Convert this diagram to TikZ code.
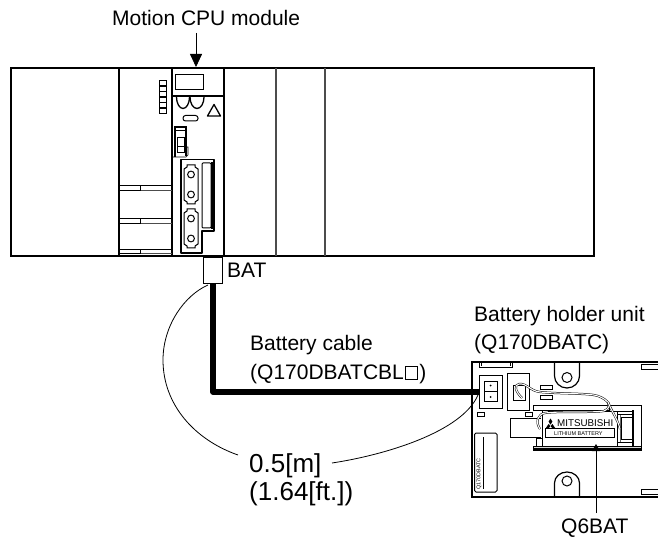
\documentclass[tikz,border=0pt]{standalone}
\usepackage{fontspec}
\setmainfont{Liberation Sans}
\usetikzlibrary{arrows.meta}
\tikzset{
  x=1pt,y=-1pt,
  body/.style={draw=black,line width=1.5pt,line join=miter},
  part/.style={draw=black,line width=1pt},
  fine/.style={draw=black,line width=.7pt},
  lbl/.style={anchor=base west,inner sep=0pt,font=\fontsize{21}{25}\selectfont},
  biglbl/.style={anchor=base west,inner sep=0pt,font=\fontsize{26}{30}\selectfont},
  wire/.style={draw=black,line width=.5pt,double=white,double distance=1.1pt},
  pointer/.style={draw=black,line width=.8pt}
}
\newcommand{\dsub}[1]{% D-sub connector outline, top at y=#1
  \draw[part] (187,#1) -- (195,#1) -- (195,#1+2) -- (198,#1+4) -- (198,#1+35) -- (195,#1+37) -- (195,#1+39) -- (187,#1+39) -- (187,#1+37) -- (184,#1+35) -- (184,#1+4) -- (187,#1+2) -- cycle;
  \draw[part] (191,#1+9.5) circle (3.4);
  \draw[part] (191,#1+29.5) circle (3.4);
}
\begin{document}
\begin{tikzpicture}
\useasboundingbox (0,0) rectangle (658,537);
% rack
\draw[body] (11,68) rectangle (594,256);
\draw[body] (119,68) -- (119,256);
\draw[body] (172,68) -- (172,256);
\draw[body] (224,68) -- (224,256);
\draw[draw=black!70,line width=1.2pt] (276,68) -- (276,256);
\draw[draw=black!70,line width=1.2pt] (325,68) -- (325,256);
\draw[body] (172,96) -- (224,96);
\draw[part] (175,74.5) rectangle (203,90);
% LEDs
\foreach \i in {0,...,5}{\draw[part] (159.5,81+5.5*\i) rectangle (166.5,81+5.5*\i+5);}
% status area
\draw[part,line width=1.3pt] (176.5,97) arc[start angle=180,end angle=0,x radius=6.5,y radius=11.5];
\draw[part,line width=1.3pt] (190,97) arc[start angle=180,end angle=0,x radius=7,y radius=11.5];
\draw[part,line width=1.3pt,line join=round] (207.5,116) -- (214,104.5) -- (220.5,116) -- cycle;
\draw[part,rounded corners=2.5pt] (183,115.5) rectangle (198,121);
% switch
\draw[part,line width=1.2pt] (175,157) -- (175,127) -- (186,127) -- (186,156);
\draw[part] (175,131) -- (186,131);
\draw[part] (177,138) rectangle (184,147);
\draw[part] (177,147) rectangle (184,153);
\draw[fine] (186,147) -- (188,147) -- (188,155) -- (186,157) -- (173,157);
% connector housing
\draw[part,line width=1.4pt,line join=round] (181,159.5) -- (214,159.5) -- (214,231) -- (202,231) -- (202,253) -- (181,253) -- cycle;
\draw[part,rounded corners=1pt] (202,163) rectangle (211,228);
\draw[line width=2.2pt] (212,162) -- (212,229);
\dsub{165}\dsub{209}
% bars
\foreach \a/\b in {186/191,219/223.5,250/254}{
  \draw[part] (119,\a) -- (172,\a);
  \draw[draw=black!70,line width=1pt] (140,\b) -- (172,\b);
  \draw[part] (119,\b) -- (140.5,\b) -- (140.5,\a);
}
% BAT connector
\node[draw=black,line width=1.3pt,fill=white,minimum width=19pt,minimum height=26pt,inner sep=0pt,anchor=north west] (batconn) at (203,257) {};
\node[lbl] (batlabel) at (227,277) {BAT};
% holder
\draw[part,line width=1.2pt] (658,362) -- (472,362) -- (472,497) -- (658,497);
\draw[part] (479,362) rectangle (512,367);
\draw[part] (481,362) -- (481,366) (510,362) -- (510,366);
\draw[part] (641,364.5) rectangle (658,369.5);
\draw[part] (641,489) rectangle (658,494);
\node[draw=black,line width=1pt,minimum width=23pt,minimum height=33pt,inner sep=0pt,anchor=north west] (holderport) at (479,375) {};
\draw[part] (484,381) rectangle (497,401);
\draw[part] (484,391) -- (497,391);
\fill (490.5,385.5) circle (1);
\fill (490.5,397) circle (1);
\draw[part] (477,412) rectangle (484,416);
\draw[part] (507,373) rectangle (529,410);
\draw[part] (525,412) rectangle (532,416);
\draw[part] (513,385) -- (513,400) -- (525,400) -- (525,385) -- cycle;
\draw[part] (540,385) rectangle (552,389.5);
\draw[part] (540,395) rectangle (552,399.5);
\draw[part] (510,418) -- (541,418) (510,418) -- (510,437) -- (541,437);
% label plate
\draw[part,rounded corners=1.5pt] (474.5,433) rectangle (497,492);
\draw[fine] (483,437) -- (483,489);
\node[inner sep=0pt,rotate=90,anchor=center,font=\fontsize{5.4}{6}\selectfont] (platetext) at (479,474) {Q170DBATC};
% ears
\draw[part,line width=1.2pt] (554.5,362) -- (554.5,376) arc[start angle=180,end angle=0,x radius=12.5,y radius=12] -- (579.5,362);
\draw[part] (567,377.5) circle (5);
\draw[part,line width=1.2pt] (554.5,497) -- (554.5,483) arc[start angle=180,end angle=360,x radius=12.5,y radius=11] -- (579.5,497);
\draw[part] (567,481) circle (5);
% battery bay
\draw[part] (609,405) -- (641,405) -- (641,450);
\draw[part,fill=white] (533,405) rectangle (609,410);
\draw[part,fill=black!15] (533,446) rectangle (641,450);
\draw[line width=2pt] (533,449) -- (641,449);
\draw[part] (548,411) -- (633,411);
\draw[line width=1.5pt] (633,410) -- (633,446);
\draw[part] (542,411) -- (542,446) (617,411) -- (617,446);
\draw[draw=black!60,line width=1pt] (620,414) -- (620,443);
\draw[part] (621,417) rectangle (633,439);
\draw[part] (617,414) -- (633,414) (617,442) -- (633,442);
\draw[part] (536,438) rectangle (542,446);
\node[inner sep=0pt,anchor=base west,font=\fontsize{9.8}{11}\selectfont] (mitsu) at (557,426.5) {MITSUBISHI};
\draw[part] (545,428.5) rectangle (614,437);
\node[inner sep=0pt,anchor=base west,font=\fontsize{5.5}{6}\selectfont] (lith) at (554,435) {LITHIUM BATTERY};
\fill (550.5,418.5) -- (552.4,421.6) -- (550.5,424.6) -- (548.6,421.6) -- cycle;
\fill (548.6,424) -- (550.4,426) -- (548.5,428.6) -- (545.4,428.6) -- cycle;
\fill (552.4,424) -- (555.6,428.6) -- (552.5,428.6) -- (550.6,426) -- cycle;
% wires
\draw[wire] (522,398) .. controls (516,392) and (513,385) .. (519,384) .. controls (527,383) and (530,391) .. (540,392) .. controls (560,394) and (590,393) .. (598,396) .. controls (609,400) and (613,407) .. (604,411) .. controls (590,413) and (560,411) .. (545,413) .. controls (538,414) and (535,422) .. (540,429);
\draw[wire] (608,402) .. controls (612,412) and (618,420) .. (620,429);
% cable
\draw[line width=5.5pt,line join=round] (batconn.south) |- (holderport.west);
% dimension curves
\coordinate (batend) at (208,285);
\coordinate (portend) at (478,395);
\node[biglbl] (dimm) at (249,472) {0.5[m]};
\node[biglbl] (dimft) at (249,500) {(1.64[ft.])};
\coordinate (curveL) at (238,455);
\coordinate (curveR) at (332,463);
\draw[line width=.8pt] (batend) .. controls (185,295) and (163,325) .. (163,360) .. controls (163,405) and (195,440) .. (curveL);
\draw[line width=.8pt] (curveR) .. controls (385,455) and (462,432) .. (portend);
% labels
\node[lbl] (cpulabel) at (112,26) {Motion CPU module};
\coordinate (cpustart) at (196,33);
\coordinate (cputip) at (196,67);
\draw[pointer,-{Triangle[length=13pt,width=12pt]}] (cpustart) -- (cputip);
\node[lbl] (cablelabel) at (250,350) {Battery cable};
\node[lbl] (cablemodel) at (250,379) {(Q170DBATCBL\kern1pt\tikz[baseline=0pt]\draw[line width=.9pt] (0,0) rectangle (12.5,-12.5);\kern1pt)};
\node[lbl] (holderlabel) at (474,321) {Battery holder unit};
\node[lbl] (holdermodel) at (474,349) {(Q170DBATC)};
\node[lbl] (q6bat) at (561,533) {Q6BAT};
\coordinate (q6start) at (596,513);
\coordinate (q6tip) at (596,444);
\draw[pointer,-{Triangle[length=7pt,width=8pt]}] (q6start) -- (q6tip);
\end{tikzpicture}
\end{document}
